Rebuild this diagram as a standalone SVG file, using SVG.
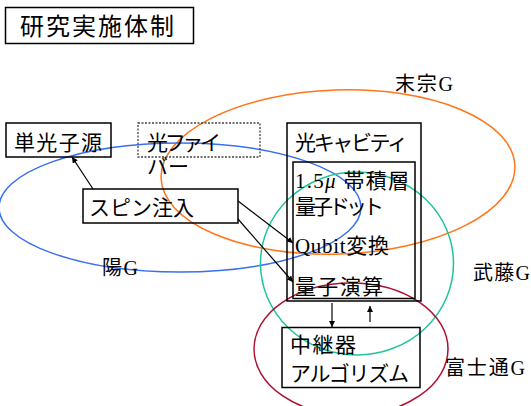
<svg xmlns="http://www.w3.org/2000/svg" width="531" height="406" viewBox="0 0 531 406">
<style>
.t{font-family:"Liberation Serif","Noto Sans CJK JP",serif;font-size:21px;fill:#000}
.lbl{font-family:"Liberation Serif","Noto Sans CJK JP",serif;font-size:20px;fill:#000}
.box{fill:none;stroke:#000;stroke-width:1.5}
.dash{fill:none;stroke:#444;stroke-width:1.3;stroke-dasharray:2 1.5}
.ell{fill:none;stroke-width:1.5}
.arr{stroke:#000;stroke-width:1.2;fill:none;marker-end:url(#ah)}
</style>
<defs>
<marker id="ah" viewBox="0 0 10 10" refX="10" refY="5" markerWidth="6" markerHeight="6" orient="auto" markerUnits="userSpaceOnUse">
<path d="M0,0 L10,5 L0,10 z" fill="#000"/>
</marker>
</defs>
<rect width="531" height="406" fill="#fff"/>

<g id="title">
<rect class="box" x="5.5" y="7.5" width="188" height="36"/>
<text class="t" x="20" y="34.5" style="font-size:24px" textLength="154" lengthAdjust="spacing">研究実施体制</text>
</g>

<g id="groups">
<ellipse id="g-suemune" class="ell" stroke="#ff7518" cx="338" cy="172" rx="177" ry="82" transform="rotate(-2 338 172)"/>
<ellipse id="g-yo" class="ell" stroke="#3a6ff0" cx="180" cy="207.5" rx="181" ry="64.5"/>
<ellipse id="g-muto" class="ell" stroke="#1ec59a" cx="357" cy="263.5" rx="96.5" ry="91.5"/>
<ellipse id="g-fujitsu" class="ell" stroke="#b01030" cx="351" cy="349" rx="97" ry="66"/>
<text class="lbl" x="395" y="91" textLength="58" lengthAdjust="spacing">末宗G</text>
<text class="lbl" x="102" y="275" textLength="36" lengthAdjust="spacing">陽G</text>
<text class="lbl" x="473" y="280" textLength="57" lengthAdjust="spacing">武藤G</text>
<text class="lbl" x="445" y="374.5" textLength="80" lengthAdjust="spacing">富士通G</text>
</g>

<g id="single-photon">
<rect class="box" x="6" y="123" width="105" height="34"/>
<text class="t" x="14" y="150" textLength="88" lengthAdjust="spacing">単光子源</text>
</g>

<g id="fiber">
<rect class="dash" x="138" y="123" width="122" height="34"/>
<text class="t" x="147" y="150" textLength="74" lengthAdjust="spacing">光ファイ</text>
<text class="t" x="147" y="174">バー</text>
</g>

<g id="spin">
<rect class="box" x="83" y="189" width="155" height="34"/>
<text class="t" x="89" y="215" textLength="105" lengthAdjust="spacing">スピン注入</text>
</g>

<g id="cavity">
<rect class="box" x="287" y="123" width="134" height="178"/>
<text class="t" x="295" y="150" textLength="113" lengthAdjust="spacing">光キャビティ</text>
<rect class="box" x="293" y="162" width="122" height="136.5"/>
<text class="t" x="295" y="188" textLength="114" lengthAdjust="spacing">1.5<tspan font-style="italic">μ</tspan> 帯積層</text>
<text class="t" x="295" y="214" textLength="89" lengthAdjust="spacing">量子ドット</text>
<text class="t" x="295" y="253" textLength="94" lengthAdjust="spacing">Qubit変換</text>
<text class="t" x="295" y="294" textLength="88" lengthAdjust="spacing">量子演算</text>
</g>

<g id="relay">
<rect class="box" x="282" y="327.5" width="138" height="60"/>
<text class="t" x="290" y="352" textLength="66" lengthAdjust="spacing">中継器</text>
<text class="t" x="290" y="381" textLength="119" lengthAdjust="spacing">アルゴリズム</text>
</g>

<g id="connectors">
<line class="arr" x1="93" y1="189" x2="72" y2="157"/>
<line class="arr" x1="238" y1="201" x2="293" y2="243"/>
<line class="arr" x1="238" y1="219" x2="293" y2="282"/>
<line class="arr" x1="332" y1="303" x2="332" y2="327"/>
<line class="arr" x1="370" y1="322" x2="370" y2="306"/>
</g>
</svg>
